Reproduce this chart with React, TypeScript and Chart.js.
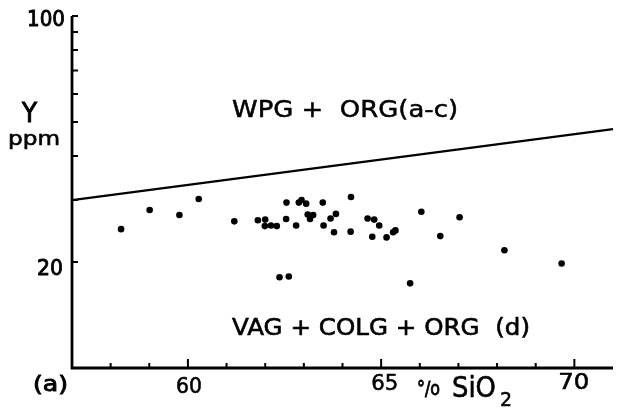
import { useEffect, useRef } from "react";
import { Chart, registerables } from "chart.js";

Chart.register(...registerables);

// Sample data: SiO2 (wt %) vs Y (ppm)
const sio2 = [
  58.27, 59.01, 59.78, 60.28, 61.2, 61.81, 62.0, 61.99, 62.15, 62.3, 62.55,
  62.54, 62.8, 62.87, 62.94, 63.06, 63.1, 63.24, 63.16, 63.49, 63.51, 63.69,
  63.83, 63.78, 64.22, 64.21, 64.65, 64.82, 64.95, 64.77, 65.14, 65.31, 65.37,
  66.04, 67.03, 66.53, 68.19, 69.67, 65.75, 62.37, 62.61,
];
const yPpm = [
  24.8, 28.1, 27.2, 30.2, 26.1, 26.3, 26.4, 25.3, 25.4, 25.3, 29.5, 26.5,
  25.4, 29.5, 30.0, 29.3, 27.3, 27.2, 26.5, 29.5, 25.4, 26.6, 27.4, 24.3,
  30.6, 24.4, 26.6, 26.4, 25.4, 23.6, 23.5, 24.3, 24.6, 27.8, 26.8, 23.7,
  21.6, 19.8, 17.4, 18.1, 18.2,
];

// Field boundary (WPG / VAG+COLG)
const boundarySio2 = [57, 71];
const boundaryY = [30.0, 47.7];

// Axes
const xMin = 57;
const xMax = 71;
const yMin = 10;
const yMax = 100;
const xTickValues = [58, 59, 60, 61, 62, 63, 64, 65, 66, 67, 68, 69, 70];
const xMajorTicks = [60, 65, 70];
const xTickLabels = ["60", "65", "70"];
const yTickValues = [20, 30, 40, 50, 60, 70, 80, 90, 100];
const yTickLabels = ["100", "20"];

const FONT = '"DejaVu Sans", "Liberation Sans", sans-serif';

function fitText(
  ctx: CanvasRenderingContext2D,
  text: string,
  left: number,
  baseline: number,
  width: number,
  size: number,
  stroke = 0.6
) {
  ctx.save();
  ctx.font = `${size}px ${FONT}`;
  ctx.textAlign = "left";
  ctx.textBaseline = "alphabetic";
  const w = ctx.measureText(text).width;
  ctx.translate(left, baseline);
  ctx.scale(width / w, 1);
  ctx.fillText(text, 0, 0);
  if (stroke > 0) {
    ctx.lineWidth = stroke;
    ctx.strokeStyle = "#000";
    ctx.strokeText(text, 0, 0);
  }
  ctx.restore();
}

const overlay = {
  id: "pearceOverlay",
  afterDraw(chart: any) {
    const ctx: CanvasRenderingContext2D = chart.ctx;
    const xs = chart.scales.x;
    const ys = chart.scales.y;
    const x0 = xs.left;
    const y0 = ys.bottom;
    ctx.save();
    ctx.strokeStyle = "#000";
    ctx.fillStyle = "#000";
    ctx.lineCap = "butt";
    ctx.lineWidth = 2.8;
    ctx.beginPath();
    ctx.moveTo(x0, ys.top);
    ctx.lineTo(x0, y0);
    ctx.lineTo(xs.right, y0);
    ctx.stroke();

    ctx.lineWidth = 2;
    ctx.beginPath();
    for (const v of xTickValues) {
      const px = xs.getPixelForValue(v);
      const len = xMajorTicks.includes(v) ? 9 : 5;
      ctx.moveTo(px, y0);
      ctx.lineTo(px, y0 - len);
    }
    for (const v of yTickValues) {
      const py = ys.getPixelForValue(v);
      ctx.moveTo(x0, py);
      ctx.lineTo(x0 + 6, py);
    }
    ctx.stroke();

    // y tick labels
    const p100 = ys.getPixelForValue(100);
    const p20 = ys.getPixelForValue(20);
    fitText(ctx, yTickLabels[0], x0 - 45, p100 + 10, 38, 22, 0.9);
    fitText(ctx, yTickLabels[1], x0 - 35, p20 + 13, 26, 22, 0.9);

    // x tick labels
    const p60 = xs.getPixelForValue(60);
    const p65 = xs.getPixelForValue(65);
    const p70 = xs.getPixelForValue(70);
    fitText(ctx, xTickLabels[0], p60 - 12, y0 + 25, 26, 22);
    fitText(ctx, xTickLabels[1], p65 - 10, y0 + 22, 27, 22);
    fitText(ctx, xTickLabels[2], p70 - 16, y0 + 21, 31, 22);

    // panel label
    fitText(ctx, "(a)", 33, y0 + 23, 35, 21, 0.9);

    // x-axis title
    fitText(ctx, "°/o", 417, y0 + 27, 23, 20, 0.9);
    fitText(ctx, "SiO", 452, y0 + 29, 44, 29, 0.6);
    fitText(ctx, "2", 500, y0 + 38, 12, 20, 0.6);

    // y-axis title
    fitText(ctx, "Y", 22, 122, 15, 27, 1);
    fitText(ctx, "ppm", 8, 145, 52, 20, 0.6);

    // field labels
    fitText(ctx, "WPG +  ORG(a-c)", 232, 117, 226, 23, 0.5);
    fitText(ctx, "VAG + COLG + ORG  (d)", 232, 335, 298, 23, 0.6);

    ctx.restore();
  },
};

export default function App() {
  const ref = useRef<HTMLCanvasElement | null>(null);
  useEffect(() => {
    if (!ref.current) return;
    const chart = new Chart(ref.current, {
      type: "scatter",
      data: {
        datasets: [
          {
            label: "Samples",
            data: sio2.map((x, i) => ({ x, y: yPpm[i] })),
            pointRadius: 3.3,
            pointBorderWidth: 0,
            pointBackgroundColor: "#000",
            borderColor: "#000",
          },
          {
            label: "Boundary",
            data: boundarySio2.map((x, i) => ({ x, y: boundaryY[i] })),
            showLine: true,
            pointRadius: 0,
            borderColor: "#000",
            borderWidth: 2.2,
          },
        ],
      },
      options: {
        responsive: false,
        animation: false,
        devicePixelRatio: 1,
        layout: { padding: { left: 72, top: 16, right: 0, bottom: 46 } },
        plugins: {
          legend: { display: false },
          tooltip: { enabled: false },
          title: { display: false },
        },
        scales: {
          x: { type: "linear", min: xMin, max: xMax, display: false },
          y: { type: "logarithmic", min: yMin, max: yMax, display: false },
        },
      },
      plugins: [overlay],
    });
    return () => chart.destroy();
  }, []);
  return (
    <div style={{ position: "absolute", left: 0, top: 0, width: 617, height: 414, background: "#fff" }}>
      <canvas ref={ref} width={617} height={414} style={{ display: "block" }} />
    </div>
  );
}
